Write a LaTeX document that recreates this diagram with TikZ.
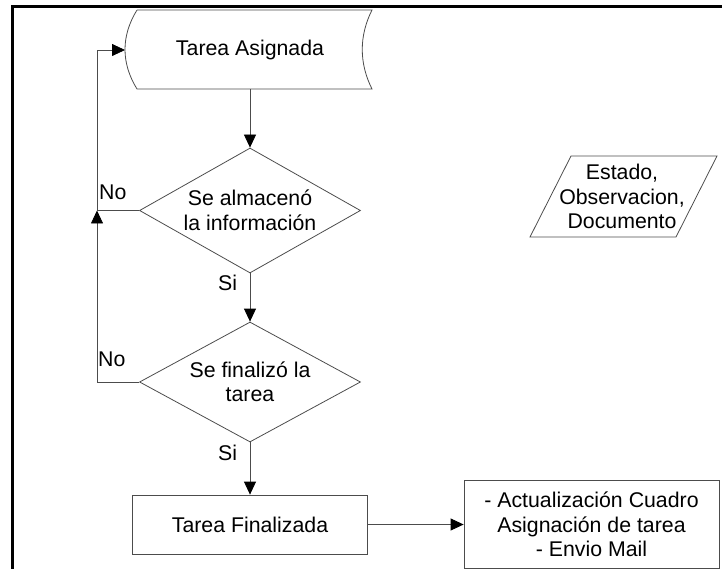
\documentclass[tikz,border=0pt]{standalone}
\usepackage{fontspec}
\setmainfont{Liberation Sans}
\usetikzlibrary{arrows.meta,shapes.geometric}
\begin{document}
\begin{tikzpicture}
        [x=1pt,y=-1pt,
         every node/.style={font=\fontsize{21.3}{24.5}\selectfont},
         linea/.style={draw=black!70,line width=0.8pt},
         flecha/.style={linea,-{Triangle[length=13pt,width=12pt,black]}},
         decision/.style={diamond,linea,aspect=1.77,minimum width=221pt,minimum height=125pt,inner sep=-4pt,align=center},
         caja/.style={rectangle,linea,align=center,inner sep=0pt}]
        \useasboundingbox (0,0) rectangle (722,569);
        \draw[line width=3pt] (12.5,569) -- (12.5,6.5) -- (722,6.5);

        \node[minimum width=235pt,minimum height=79pt,inner sep=0pt] (asig) at (250,49.5) {Tarea Asignada};
        \draw[linea] (137,10) -- (372,10) .. controls (359,36) and (359,63) .. (372,89)
          -- (137,89) .. controls (121,63) and (121,36) .. (137,10);
        \coordinate (asigL) at (125,50);

        \node[decision] (alm) at (250,210.5) {Se almacenó\\la información};
        \node[decision,minimum height=120pt] (fin) at (250,382) {Se finalizó la\\tarea};
        \node[caja,minimum width=235pt,minimum height=59pt] (tfin) at (250,524.5) {Tarea Finalizada};
        \node[caja,minimum width=255pt,minimum height=88pt] (act) at (591.5,524.5)
          {- Actualización Cuadro\\Asignación de tarea\\- Envio Mail};

        \node[align=center,inner sep=0pt] (datos) at (622,196.5) {Estado,\\Observacion,\\Documento};
        \draw[linea] (571,156) -- (717,156) -- (676,237) -- (530,237) -- cycle;

        \coordinate (esq) at (97,210.5);
        \draw[flecha] (asig.south) -- (alm.north);
        \draw[flecha] (alm.south) -- (fin.north);
        \draw[flecha] (fin.south) -- (tfin.north);
        \draw[flecha] (tfin.east) -- (act.west);
        \draw[flecha] (alm.west) -- (esq) |- (asigL);
        \draw[flecha] (fin.west) -| (esq);

        \node[anchor=base west,inner sep=0pt] (no1) at (99,200) {No};
        \node[anchor=base west,inner sep=0pt] (no2) at (98,366) {No};
        \node[anchor=base west,inner sep=0pt] (si1) at (218,290) {Si};
        \node[anchor=base west,inner sep=0pt] (si2) at (218,460) {Si};
      \end{tikzpicture}
\end{document}
